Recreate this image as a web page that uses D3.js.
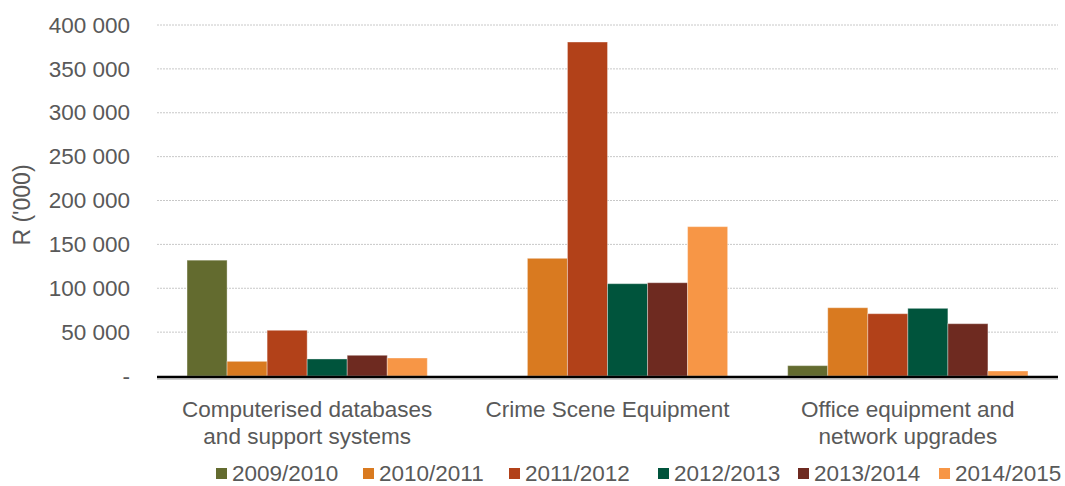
<!DOCTYPE html>
<html>
<head>
<meta charset="utf-8">
<script src="https://cdn.jsdelivr.net/npm/d3@7"></script>
<style>
  html, body { margin: 0; padding: 0; background: #fff; }
  svg text { font-family: "Liberation Sans", Arial, sans-serif; fill: #595959; }
</style>
</head>
<body>
<svg id="chart" width="1065" height="486"></svg>
<script>
// Capital spending by item, R ('000)
const categories = [
  ["Computerised databases", "and support systems"],
  ["Crime Scene Equipment"],
  ["Office equipment and", "network upgrades"]
];
const years = ["2009/2010", "2010/2011", "2011/2012", "2012/2013", "2013/2014", "2014/2015"];
const colors = ["#636b2f", "#d97a20", "#b24119", "#00543c", "#6e2a20", "#f79646"];

// one array per year, one value per category
const v2009 = [132000, 0, 11800];
const v2010 = [16700, 134100, 77800];
const v2011 = [52100, 380600, 71000];
const v2012 = [19400, 105200, 77100];
const v2013 = [23600, 106300, 59600];
const v2014 = [20500, 170200, 5700];
const series = [v2009, v2010, v2011, v2012, v2013, v2014];

const yTicks = [0, 50000, 100000, 150000, 200000, 250000, 300000, 350000, 400000];

// layout
const FONT = 22.5;
const legendOffsets = [216, 363, 509, 658, 798, 939];

const svg = d3.select("#chart");
const m = { left: 157, right: 1058, top: 25, bottom: 376 };

const x0 = d3.scaleBand().domain(d3.range(categories.length))
  .range([m.left, m.right]).paddingInner(0.2).paddingOuter(0.1);
const x1 = d3.scaleBand().domain(d3.range(years.length))
  .range([0, x0.bandwidth()]);
const y = d3.scaleLinear().domain([0, 400000]).range([m.bottom, m.top]);

const fmt = v => v === 0 ? "-" : d3.format(",")(v).replace(/,/g, " ");

// gridlines
svg.append("g").selectAll("line").data(yTicks.filter(d => d > 0)).join("line")
  .attr("x1", m.left).attr("x2", m.right)
  .attr("y1", d => y(d)).attr("y2", d => y(d))
  .attr("stroke", "#c8c8c8").attr("stroke-width", 1)
  .attr("stroke-dasharray", "2,1");

// y axis labels
const yAxis = svg.append("g").attr("transform", `translate(${m.left - 27},0)`)
  .call(d3.axisLeft(y).tickValues(yTicks).tickFormat(fmt).tickSize(0).tickPadding(0));
yAxis.select(".domain").remove();
yAxis.selectAll("text").attr("font-size", FONT).attr("fill", "#595959")
  .attr("font-family", "Liberation Sans, Arial, sans-serif");

// y axis title
svg.append("text")
  .attr("transform", `translate(30,205) rotate(-90)`)
  .attr("text-anchor", "middle").attr("font-size", 23)
  .text("R ('000)");

// bars
const groups = svg.append("g").selectAll("g").data(categories).join("g")
  .attr("transform", (d, i) => `translate(${x0(i)},0)`);
groups.selectAll("rect")
  .data((d, ci) => series.map((s, si) => ({ si, v: s[ci] })).filter(d => d.v > 0))
  .join("rect")
  .attr("x", d => x1(d.si))
  .attr("width", x1.bandwidth())
  .attr("y", d => y(d.v))
  .attr("height", d => y(0) - y(d.v))
  .attr("fill", d => colors[d.si])
  .attr("stroke", "rgba(255,255,255,0.35)")
  .attr("stroke-width", 1);

// baseline
svg.append("line")
  .attr("x1", m.left).attr("x2", m.right)
  .attr("y1", m.bottom + 1).attr("y2", m.bottom + 1)
  .attr("stroke", "#000").attr("stroke-width", 2.5);
svg.append("line")
  .attr("x1", m.left).attr("x2", m.right)
  .attr("y1", m.bottom + 3).attr("y2", m.bottom + 3)
  .attr("stroke", "#a0a0a0").attr("stroke-width", 1);

// category labels
const catLabels = svg.append("g").selectAll("text").data(categories).join("text")
  .attr("text-anchor", "middle").attr("font-size", FONT)
  .attr("x", (d, i) => x0(i) + x0.bandwidth() / 2)
  .attr("y", 417);
catLabels.selectAll("tspan").data(d => d).join("tspan")
  .attr("x", function () { return d3.select(this.parentNode).attr("x"); })
  .attr("dy", (d, i) => i === 0 ? 0 : 26.5)
  .text(d => d);

// legend
const leg = svg.append("g").selectAll("g").data(years).join("g")
  .attr("transform", (d, i) => `translate(${legendOffsets[i]},0)`);
leg.append("rect").attr("x", 0).attr("y", 468).attr("width", 11).attr("height", 11)
  .attr("fill", (d, i) => colors[i]);
leg.append("text").attr("x", 16).attr("y", 481).attr("font-size", FONT)
  .text(d => d);
</script>
</body>
</html>
